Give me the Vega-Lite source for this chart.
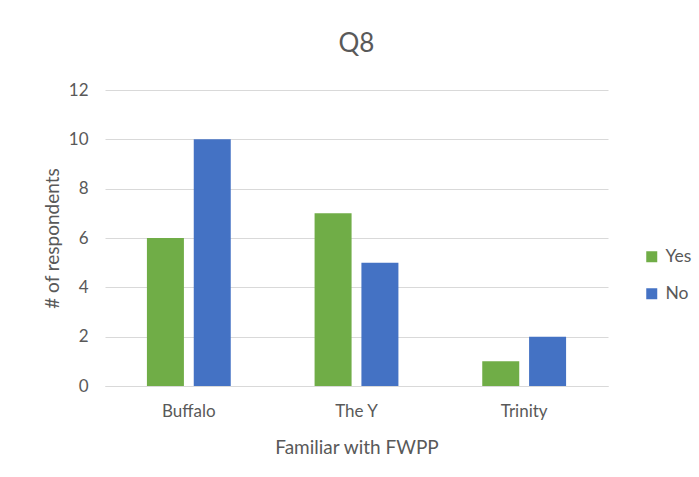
{
  "$schema": "https://vega.github.io/schema/vega-lite/v6.json",
  "width": 503,
  "height": 296,
  "autosize": {"type": "none"},
  "padding": {"left": 105, "top": 90, "right": 91, "bottom": 91},
  "background": "white",
  "title": {"text": "Q8", "fontSize": 26, "font": "Lato", "fontWeight": "normal", "color": "#595959", "anchor": "middle", "offset": 24},
  "data": {
    "values": [
      {"site": "Buffalo", "answer": "Yes", "count": 6},
      {"site": "Buffalo", "answer": "No", "count": 10},
      {"site": "The Y", "answer": "Yes", "count": 7},
      {"site": "The Y", "answer": "No", "count": 5},
      {"site": "Trinity", "answer": "Yes", "count": 1},
      {"site": "Trinity", "answer": "No", "count": 2}
    ]
  },
  "mark": {"type": "bar"},
  "encoding": {
    "x": {
      "field": "site", "type": "nominal", "sort": ["Buffalo", "The Y", "Trinity"],
      "scale": {"paddingInner": 0.5, "paddingOuter": 0.25},
      "axis": {"title": "Familiar with FWPP", "labelAngle": 0, "ticks": false, "domainColor": "#d9d9d9", "labelPadding": 17, "titlePadding": 19}
    },
    "xOffset": {"field": "answer", "type": "nominal", "sort": ["Yes", "No"], "scale": {"paddingInner": 0.21, "paddingOuter": 0}},
    "y": {
      "field": "count", "type": "quantitative",
      "scale": {"domain": [0, 12]},
      "axis": {"title": "# of respondents", "values": [0, 2, 4, 6, 8, 10, 12], "ticks": false, "domain": false, "labelPadding": 17, "titlePadding": 6, "gridColor": "#d9d9d9"}
    },
    "color": {
      "field": "answer", "type": "nominal", "sort": ["Yes", "No"],
      "scale": {"domain": ["Yes", "No"], "range": ["#70AD47", "#4472C4"]},
      "legend": {"title": null, "orient": "none", "legendX": 538, "legendY": 158, "symbolType": "square", "symbolSize": 121, "labelFontSize": 17.5, "rowPadding": 18, "labelOffset": 5}
    }
  },
  "config": {
    "view": {"stroke": null},
    "font": "Lato",
    "axis": {"labelFont": "Lato", "titleFont": "Lato", "labelFontSize": 17, "titleFontSize": 19, "titleFontWeight": "normal", "labelColor": "#595959", "titleColor": "#595959"},
    "legend": {"labelFont": "Lato", "labelColor": "#595959"}
  }
}
